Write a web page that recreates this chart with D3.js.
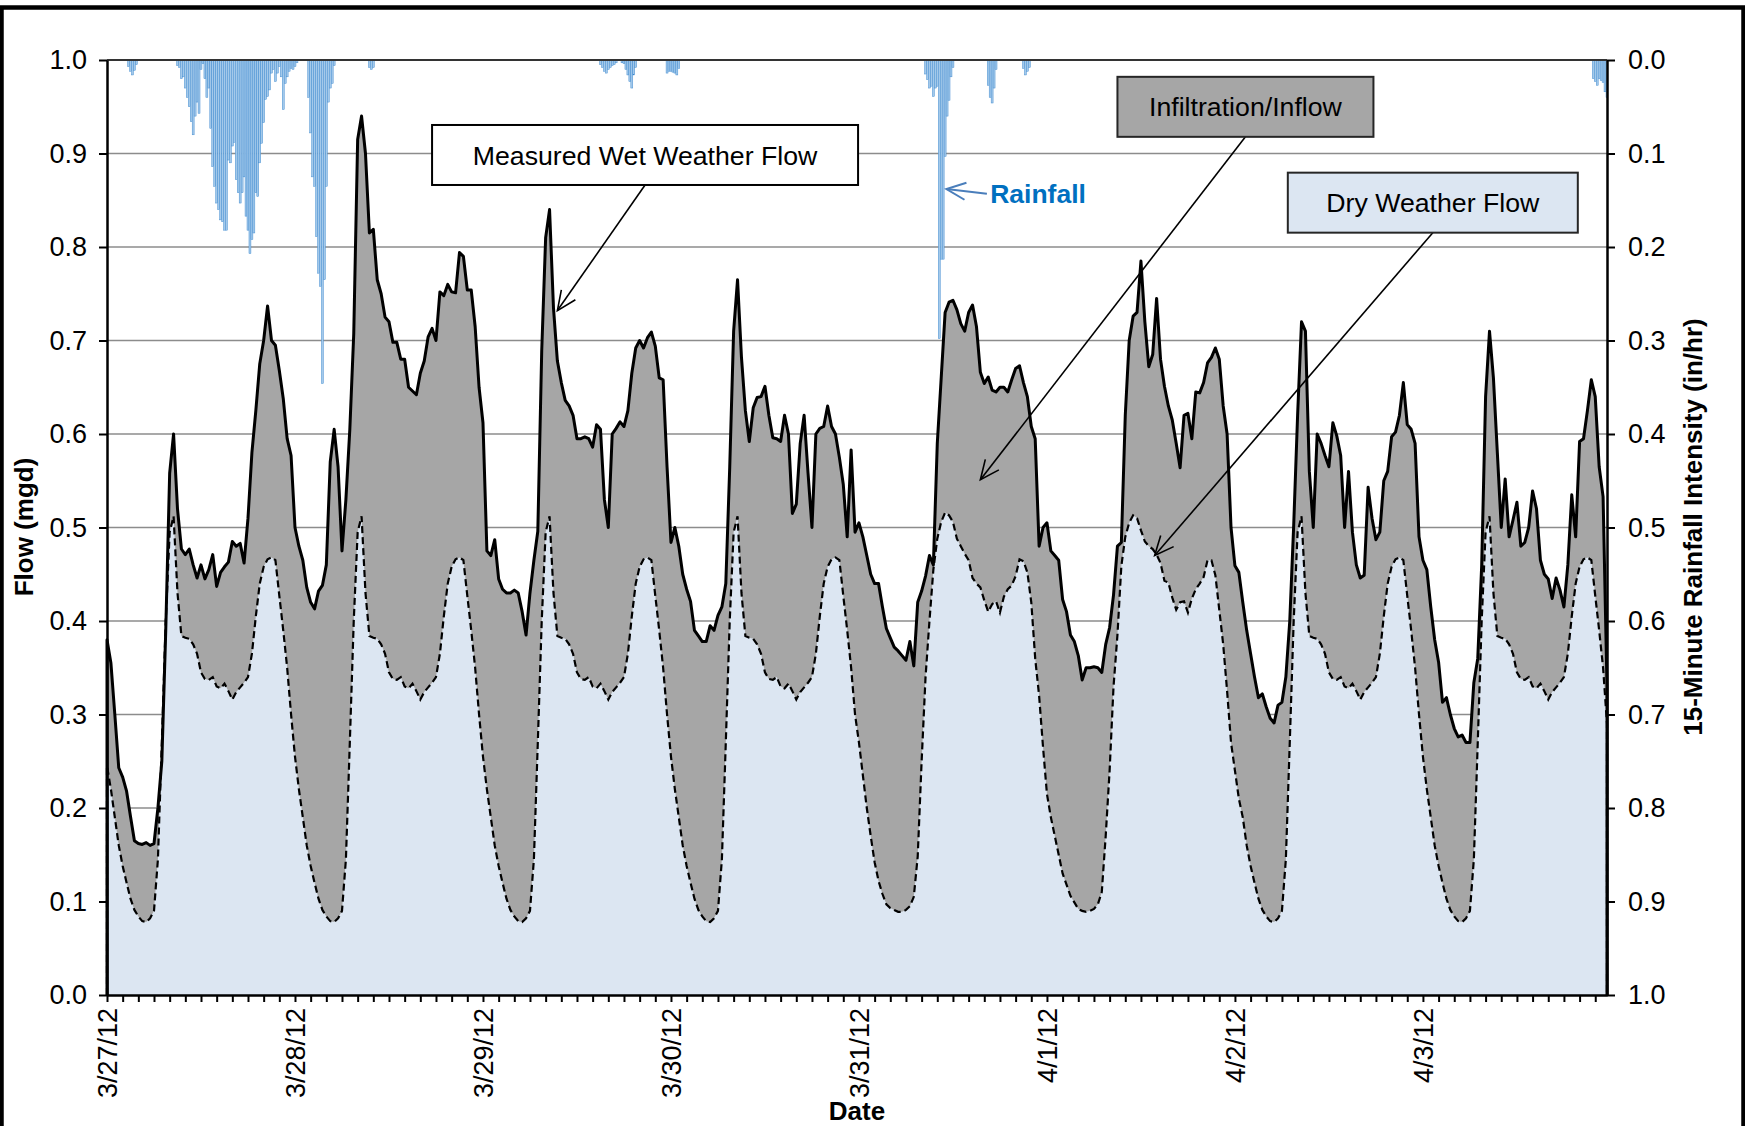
<!DOCTYPE html>
<html>
<head>
<meta charset="UTF-8">
<title>Wet Weather Flow</title>
<script src="https://d3js.org/d3.v7.min.js"></script>
<style>
  body { margin: 0; background: #fff; }
  text { font-family: "Liberation Sans", Arial, sans-serif; }
</style>
</head>
<body>
<svg id="chart" width="1745" height="1126"></svg>
<script>

// flow readings, every 30 minutes from 3/27/12 00:00 (mgd)
var flowStart = "2012-03-27 00:00";

var wet327 = [0.38,0.355,0.30,0.243,0.233,0.218,0.191,0.165,0.162,0.161,0.163,0.16,0.162,0.20,0.25,0.39,0.558,0.60,0.52,0.477,0.471,0.477,0.46,0.446,0.46,0.445,0.455,0.471,0.437,0.452,0.458,0.463,0.485,0.48,0.483,0.462,0.51,0.58,0.625,0.675,0.70,0.737,0.70,0.695,0.668,0.638,0.595,0.577];
var wet328 = [0.50,0.48,0.465,0.436,0.42,0.413,0.432,0.438,0.46,0.57,0.605,0.565,0.475,0.53,0.605,0.707,0.915,0.94,0.90,0.815,0.819,0.765,0.75,0.725,0.72,0.698,0.698,0.68,0.68,0.65,0.646,0.642,0.665,0.678,0.704,0.713,0.70,0.752,0.748,0.76,0.752,0.751,0.794,0.79,0.754,0.754,0.715,0.65];
var wet329 = [0.612,0.475,0.47,0.487,0.445,0.434,0.43,0.43,0.433,0.43,0.41,0.385,0.43,0.465,0.496,0.689,0.81,0.84,0.735,0.678,0.655,0.636,0.63,0.62,0.595,0.595,0.597,0.595,0.586,0.61,0.605,0.53,0.50,0.60,0.606,0.613,0.608,0.625,0.665,0.692,0.70,0.692,0.703,0.709,0.694,0.66,0.658,0.565];
var wet330 = [0.484,0.50,0.48,0.45,0.434,0.421,0.39,0.384,0.378,0.378,0.395,0.39,0.406,0.415,0.44,0.564,0.71,0.765,0.682,0.625,0.592,0.628,0.639,0.64,0.651,0.62,0.596,0.595,0.592,0.62,0.60,0.515,0.525,0.59,0.62,0.558,0.50,0.60,0.606,0.608,0.63,0.608,0.60,0.575,0.546,0.49,0.583,0.495];
var wet331 = [0.505,0.49,0.47,0.45,0.44,0.44,0.415,0.392,0.382,0.372,0.368,0.363,0.358,0.378,0.352,0.42,0.432,0.448,0.47,0.46,0.59,0.66,0.73,0.741,0.743,0.733,0.718,0.71,0.73,0.738,0.715,0.666,0.654,0.661,0.647,0.645,0.65,0.65,0.645,0.658,0.67,0.673,0.655,0.64,0.608,0.595,0.48,0.50];
var wet401 = [0.505,0.475,0.47,0.465,0.423,0.41,0.385,0.378,0.363,0.337,0.35,0.35,0.351,0.35,0.345,0.375,0.393,0.428,0.48,0.484,0.62,0.70,0.726,0.73,0.785,0.72,0.672,0.685,0.745,0.68,0.651,0.63,0.615,0.59,0.564,0.62,0.622,0.595,0.645,0.644,0.655,0.676,0.682,0.692,0.68,0.63,0.60,0.50];
var wet402 = [0.459,0.452,0.42,0.39,0.365,0.34,0.318,0.322,0.308,0.296,0.291,0.31,0.313,0.34,0.40,0.502,0.62,0.72,0.71,0.56,0.50,0.60,0.59,0.577,0.565,0.612,0.598,0.577,0.50,0.56,0.495,0.46,0.446,0.449,0.543,0.51,0.487,0.495,0.55,0.56,0.597,0.602,0.62,0.655,0.61,0.605,0.59,0.49];
var wet403 = [0.465,0.455,0.415,0.38,0.356,0.313,0.318,0.30,0.285,0.276,0.278,0.27,0.27,0.334,0.36,0.459,0.64,0.71,0.66,0.58,0.50,0.552,0.49,0.508,0.527,0.48,0.484,0.50,0.539,0.52,0.465,0.45,0.445,0.424,0.446,0.433,0.415,0.46,0.535,0.49,0.592,0.595,0.625,0.658,0.64,0.565,0.533,0.33];

var dry327 = [0.245,0.22,0.19,0.16,0.138,0.12,0.103,0.091,0.084,0.079,0.078,0.082,0.09,0.145,0.27,0.40,0.495,0.512,0.43,0.384,0.382,0.381,0.375,0.365,0.345,0.338,0.337,0.34,0.33,0.328,0.333,0.325,0.316,0.324,0.329,0.334,0.34,0.365,0.405,0.44,0.458,0.466,0.468,0.465,0.427,0.39,0.35,0.30];
var dry328 = [0.255,0.22,0.19,0.16,0.138,0.12,0.103,0.091,0.084,0.079,0.078,0.082,0.09,0.145,0.27,0.40,0.495,0.512,0.43,0.384,0.382,0.381,0.375,0.365,0.345,0.338,0.337,0.34,0.33,0.328,0.333,0.325,0.316,0.324,0.329,0.334,0.34,0.365,0.405,0.44,0.458,0.466,0.468,0.465,0.427,0.39,0.35,0.30];
var dry329 = [0.255,0.22,0.19,0.16,0.138,0.12,0.103,0.091,0.084,0.079,0.078,0.082,0.09,0.145,0.27,0.40,0.495,0.512,0.43,0.384,0.382,0.381,0.375,0.365,0.345,0.338,0.337,0.34,0.33,0.328,0.333,0.325,0.316,0.324,0.329,0.334,0.34,0.365,0.405,0.44,0.458,0.466,0.468,0.465,0.427,0.39,0.35,0.30];
var dry330 = [0.255,0.22,0.19,0.16,0.138,0.12,0.103,0.091,0.084,0.079,0.078,0.082,0.09,0.145,0.27,0.40,0.495,0.512,0.43,0.384,0.382,0.381,0.375,0.365,0.345,0.338,0.337,0.34,0.33,0.328,0.333,0.325,0.316,0.324,0.329,0.334,0.34,0.365,0.405,0.44,0.458,0.466,0.468,0.465,0.427,0.39,0.35,0.30];
var dry331 = [0.27,0.235,0.20,0.17,0.142,0.122,0.108,0.097,0.093,0.091,0.089,0.089,0.091,0.095,0.105,0.148,0.25,0.34,0.40,0.455,0.488,0.506,0.516,0.513,0.506,0.488,0.48,0.472,0.465,0.446,0.44,0.436,0.422,0.41,0.418,0.421,0.409,0.426,0.434,0.438,0.448,0.466,0.464,0.452,0.42,0.36,0.32,0.265];
var dry401 = [0.215,0.19,0.17,0.15,0.13,0.118,0.106,0.099,0.092,0.09,0.089,0.09,0.092,0.097,0.11,0.17,0.24,0.33,0.385,0.459,0.49,0.505,0.513,0.51,0.497,0.485,0.48,0.477,0.471,0.462,0.443,0.441,0.425,0.412,0.42,0.421,0.409,0.424,0.434,0.44,0.447,0.465,0.465,0.449,0.412,0.375,0.325,0.27];
var dry402 = [0.24,0.21,0.19,0.16,0.138,0.12,0.103,0.091,0.084,0.079,0.078,0.082,0.09,0.145,0.27,0.40,0.495,0.512,0.43,0.384,0.382,0.381,0.375,0.365,0.345,0.338,0.337,0.34,0.33,0.328,0.333,0.325,0.316,0.324,0.329,0.334,0.34,0.365,0.405,0.44,0.458,0.466,0.468,0.465,0.427,0.39,0.35,0.30];
var dry403 = [0.255,0.22,0.19,0.16,0.138,0.12,0.103,0.091,0.084,0.079,0.078,0.082,0.09,0.145,0.27,0.40,0.495,0.512,0.43,0.384,0.382,0.381,0.375,0.365,0.345,0.338,0.337,0.34,0.33,0.328,0.333,0.325,0.316,0.324,0.329,0.334,0.34,0.365,0.405,0.44,0.458,0.466,0.468,0.465,0.427,0.39,0.35,0.29];

// 15-minute rainfall bursts (in/hr), each list starts at the matching time
var rainStarts = ["2012-03-27 02:45", "2012-03-27 09:00", "2012-03-28 01:45", "2012-03-28 09:30",
                  "2012-03-29 15:00", "2012-03-29 23:30", "2012-03-31 08:30", "2012-03-31 16:30",
                  "2012-03-31 21:00", "2012-04-03 21:45"];
var rainBursts = [
  [0.007,0.012,0.016,0.011,0.005],
  [0.006,0.008,0.02,0.018, 0.03,0.04,0.05,0.066, 0.08,0.06,0.045,0.057, 0.01,0.004,0.02,0.04,
   0.03,0.073,0.114,0.135, 0.153,0.16,0.171,0.173, 0.182,0.182,0.107,0.11, 0.092,0.088,0.128,0.142,
   0.153,0.142,0.125,0.167, 0.182,0.207,0.192,0.185, 0.142,0.146,0.11,0.089, 0.067,0.042,0.039,0.032,
   0.014,0.01,0.023,0.014, 0.007,0.018,0.053,0.025, 0.018,0.012,0.009,0.01, 0.007,0.003],
  [0.04,0.078,0.125,0.135,0.189,0.228,0.242,0.346,0.235,0.135,0.045,0.03,0.025,0.006],
  [0.008,0.01,0.008],
  [0.005,0.008,0.012,0.014,0.01,0.008,0.006,0.005,0.003,0,0,0.003,0.004,0.01,0.016,0.023,0.03,0.016,0.008],
  [0.014,0.012,0.012,0.013,0.014,0.016,0.009],
  [0.015,0.021,0.03,0.028,0.039,0.03,0.028,0.298,0.213,0.213,0.103,0.06,0.043,0.018,0.008],
  [0.027,0.04,0.046,0.03,0.01],
  [0.009,0.016,0.012,0.008],
  [0.02,0.023,0.027,0.02,0.022,0.024,0.034,0.04]
];

var flowTicks = [0, 0.1, 0.2, 0.3, 0.4, 0.5, 0.6, 0.7, 0.8, 0.9, 1.0];
var rainTicks = [0, 0.1, 0.2, 0.3, 0.4, 0.5, 0.6, 0.7, 0.8, 0.9, 1.0];

var wetFlow = [].concat(wet327, wet328, wet329, wet330, wet331, wet401, wet402, wet403);
var dryFlow = [].concat(dry327, dry328, dry329, dry330, dry331, dry401, dry402, dry403);

var parse = d3.timeParse("%Y-%m-%d %H:%M");
var t0 = parse(flowStart);
var wet = wetFlow.map(function (v, i) { return { t: d3.timeMinute.offset(t0, 30 * i), v: v }; });
var dry = dryFlow.map(function (v, i) { return { t: d3.timeMinute.offset(t0, 30 * i), v: v }; });
var tEnd = wet[wet.length - 1].t;

var rain = [];
rainStarts.forEach(function (s, k) {
  var ts = parse(s);
  rainBursts[k].forEach(function (v, j) {
    rain.push({ t: d3.timeMinute.offset(ts, 15 * j), v: v });
  });
});

var plotL = 107, plotR = 1607, plotT = 60, plotB = 995;

var x = d3.scaleTime().domain([t0, tEnd]).range([plotL, plotR]);
var y = d3.scaleLinear().domain([0, 1]).range([plotB, plotT]);
var yRain = d3.scaleLinear().domain([0, 1]).range([plotT, plotB]);

var svg = d3.select("#chart");

svg.append("rect").attr("width", 1745).attr("height", 1126).attr("fill", "#fff");
svg.append("rect")
  .attr("x", 1.5).attr("y", 7.5).attr("width", 1742).attr("height", 1200)
  .attr("fill", "none").attr("stroke", "#000").attr("stroke-width", 4.5);

svg.append("defs").append("clipPath").attr("id", "plot")
  .append("rect").attr("x", plotL).attr("y", plotT).attr("width", plotR - plotL).attr("height", plotB - plotT);

// gridlines
svg.append("g").selectAll("line")
  .data(flowTicks.filter(function (d) { return d > 0 && d < 1; }))
  .enter().append("line")
  .attr("x1", plotL).attr("x2", plotR)
  .attr("y1", function (d) { return y(d); }).attr("y2", function (d) { return y(d); })
  .attr("stroke", "#8c8c8c").attr("stroke-width", 1.6);

var plot = svg.append("g").attr("clip-path", "url(#plot)");

plot.append("path").datum(wet)
  .attr("fill", "#a6a6a6")
  .attr("d", d3.area().x(function (d) { return x(d.t); }).y0(y(0)).y1(function (d) { return y(d.v); }));

plot.append("path").datum(dry)
  .attr("fill", "#dce6f2")
  .attr("d", d3.area().x(function (d) { return x(d.t); }).y0(y(0)).y1(function (d) { return y(d.v); }));

// rainfall columns hanging from the top (reversed secondary axis)
var bw = x(d3.timeMinute.offset(t0, 15)) - x(t0);
plot.append("g").selectAll("rect")
  .data(rain.filter(function (d) { return d.v > 0; }))
  .enter().append("rect")
  .attr("x", function (d) { return x(d.t) - bw / 2; })
  .attr("y", yRain(0))
  .attr("width", bw)
  .attr("height", function (d) { return yRain(d.v) - yRain(0); })
  .attr("fill", "#a4c9ea")
  .attr("stroke", "#3b88cf")
  .attr("stroke-width", 0.45);

var line = d3.line().x(function (d) { return x(d.t); }).y(function (d) { return y(d.v); });
var edge = function (s) { return [{ t: s[0].t, v: 0 }].concat(s, [{ t: s[s.length - 1].t, v: 0 }]); };

svg.append("path").datum(edge(dry))
  .attr("fill", "none").attr("stroke", "#000").attr("stroke-width", 2.2)
  .attr("stroke-dasharray", "7,4")
  .attr("d", line);

svg.append("path").datum(edge(wet))
  .attr("fill", "none").attr("stroke", "#000").attr("stroke-width", 3)
  .attr("stroke-linejoin", "round")
  .attr("d", line);

// top edge of plot
svg.append("line").attr("x1", plotL).attr("x2", plotR).attr("y1", plotT).attr("y2", plotT)
  .attr("stroke", "#333").attr("stroke-width", 2);

// axes
var fmt1 = d3.format(".1f");
function styleAxis(g) {
  g.selectAll(".domain").attr("stroke", "#000").attr("stroke-width", 2.5);
  g.selectAll(".tick line").attr("stroke", "#000").attr("stroke-width", 2);
  g.selectAll("text").attr("font-size", 27).attr("fill", "#000")
    .attr("font-family", "'Liberation Sans', Arial, sans-serif");
}

svg.append("g").attr("transform", "translate(" + plotL + ",0)")
  .call(d3.axisLeft(y).tickValues(flowTicks).tickFormat(fmt1).tickSize(8).tickSizeOuter(0).tickPadding(12))
  .call(styleAxis);

svg.append("g").attr("transform", "translate(" + plotR + ",0)")
  .call(d3.axisRight(yRain).tickValues(rainTicks).tickFormat(fmt1).tickSize(8).tickSizeOuter(0).tickPadding(13))
  .call(styleAxis);

var dayFmt = d3.timeFormat("%-m/%-d/%y");
var xAxis = svg.append("g").attr("transform", "translate(0," + plotB + ")")
  .call(d3.axisBottom(x)
    .tickValues(d3.timeHour.every(2).range(t0, d3.timeMinute.offset(tEnd, 1)))
    .tickFormat(function (d) { return d.getHours() === 0 ? dayFmt(d) : ""; })
    .tickSize(7).tickSizeOuter(0))
  .call(styleAxis);
xAxis.selectAll("text")
  .attr("transform", "rotate(-90)")
  .attr("text-anchor", "end")
  .attr("x", -13).attr("y", 0).attr("dy", "0.35em");

// axis titles
svg.append("text").attr("transform", "translate(33,527) rotate(-90)")
  .attr("text-anchor", "middle").attr("font-size", 26).attr("font-weight", "bold")
  .text("Flow (mgd)");
svg.append("text").attr("transform", "translate(1702,527) rotate(-90)")
  .attr("text-anchor", "middle").attr("font-size", 26).attr("font-weight", "bold")
  .text("15-Minute Rainfall Intensity (in/hr)");
svg.append("text").attr("x", (plotL + plotR) / 2).attr("y", 1120)
  .attr("text-anchor", "middle").attr("font-size", 26).attr("font-weight", "bold")
  .text("Date");

// callouts
function arrow(g, x1, y1, x2, y2, color, w) {
  var a = Math.atan2(y2 - y1, x2 - x1), len = 21, s = 0.42;
  g.append("line").attr("x1", x1).attr("y1", y1).attr("x2", x2).attr("y2", y2)
    .attr("stroke", color).attr("stroke-width", w);
  g.append("path")
    .attr("d", "M" + (x2 - len * Math.cos(a - s)) + "," + (y2 - len * Math.sin(a - s)) +
      "L" + x2 + "," + y2 +
      "L" + (x2 - len * Math.cos(a + s)) + "," + (y2 - len * Math.sin(a + s)))
    .attr("fill", "none").attr("stroke", color).attr("stroke-width", w);
}

var notes = [
  { label: "Measured Wet Weather Flow", at: "2012-03-28 17:30", top: 0.9305, w: 426, h: 60, fill: "#ffffff", stroke: "#000",
    tip: "2012-03-29 09:30", tipV: 0.732 },
  { label: "Infiltration/Inflow", at: "2012-04-01 09:00", top: 0.982, w: 256, h: 60, fill: "#a6a6a6", stroke: "#262626",
    tip: "2012-03-31 15:30", tipV: 0.551 },
  { label: "Dry Weather Flow", at: "2012-04-02 06:45", top: 0.8795, w: 290, h: 60, fill: "#dce6f2", stroke: "#262626",
    tip: "2012-04-01 13:45", tipV: 0.47 }
];

var ann = svg.append("g");
notes.forEach(function (n) {
  var bx = x(parse(n.at)), by = y(n.top);
  arrow(ann, bx + n.w / 2, by + n.h, x(parse(n.tip)), y(n.tipV), "#000", 1.6);
  ann.append("rect").attr("x", bx).attr("y", by).attr("width", n.w).attr("height", n.h)
    .attr("fill", n.fill).attr("stroke", n.stroke).attr("stroke-width", 2);
  ann.append("text").attr("x", bx + n.w / 2).attr("y", by + n.h / 2).attr("dy", "0.36em")
    .attr("text-anchor", "middle").attr("font-size", 26.7).attr("fill", "#000")
    .text(n.label);
});

arrow(ann, x(parse("2012-03-31 16:20")), yRain(0.143), x(parse("2012-03-31 11:10")), yRain(0.138), "#4a7ebb", 2);
ann.append("text").attr("x", x(parse("2012-03-31 16:45"))).attr("y", yRain(0.153))
  .attr("font-size", 26.5).attr("font-weight", "bold").attr("fill", "#0070c0")
  .text("Rainfall");

</script>
</body>
</html>
